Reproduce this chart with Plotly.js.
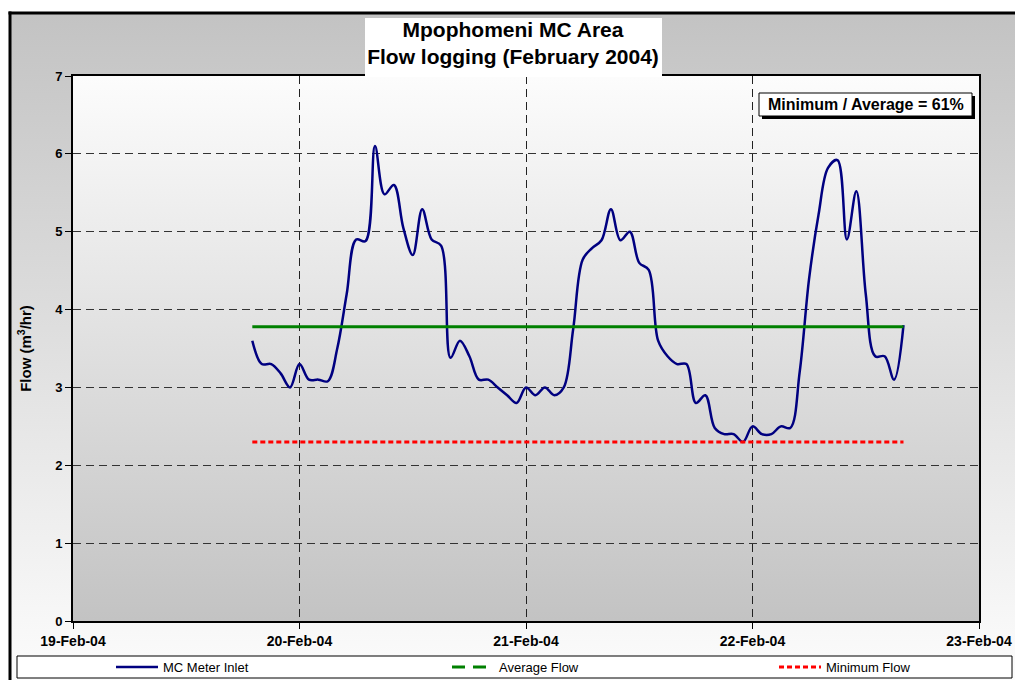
<!DOCTYPE html>
<html>
<head>
<meta charset="utf-8">
<script src="https://cdn.plot.ly/plotly-3.0.1.min.js"></script>
<style>html,body{margin:0;padding:0;background:#fff;overflow:hidden;}#chart{width:1015px;height:680px;overflow:hidden;}</style>
</head>
<body>
<div id="chart"></div>
<script>
// Hourly log timestamps
const times = [
  '2004-02-19 19:00','2004-02-19 20:00','2004-02-19 21:00','2004-02-19 22:00','2004-02-19 23:00',
  '2004-02-20 00:00','2004-02-20 01:00','2004-02-20 02:00','2004-02-20 03:00','2004-02-20 04:00',
  '2004-02-20 05:00','2004-02-20 06:00','2004-02-20 07:00','2004-02-20 08:00','2004-02-20 09:00',
  '2004-02-20 10:00','2004-02-20 11:00','2004-02-20 12:00','2004-02-20 13:00','2004-02-20 14:00',
  '2004-02-20 15:00','2004-02-20 16:00','2004-02-20 17:00','2004-02-20 18:00','2004-02-20 19:00',
  '2004-02-20 20:00','2004-02-20 21:00','2004-02-20 22:00','2004-02-20 23:00','2004-02-21 00:00',
  '2004-02-21 01:00','2004-02-21 02:00','2004-02-21 03:00','2004-02-21 04:00','2004-02-21 05:00',
  '2004-02-21 06:00','2004-02-21 07:00','2004-02-21 08:00','2004-02-21 09:00','2004-02-21 10:00',
  '2004-02-21 11:00','2004-02-21 12:00','2004-02-21 13:00','2004-02-21 14:00','2004-02-21 15:00',
  '2004-02-21 16:00','2004-02-21 17:00','2004-02-21 18:00','2004-02-21 19:00','2004-02-21 20:00',
  '2004-02-21 21:00','2004-02-21 22:00','2004-02-21 23:00','2004-02-22 00:00','2004-02-22 01:00',
  '2004-02-22 02:00','2004-02-22 03:00','2004-02-22 04:00','2004-02-22 05:00','2004-02-22 06:00',
  '2004-02-22 07:00','2004-02-22 08:00','2004-02-22 09:00','2004-02-22 10:00','2004-02-22 11:00',
  '2004-02-22 12:00','2004-02-22 13:00','2004-02-22 14:00','2004-02-22 15:00','2004-02-22 16:00'
];
// MC Meter Inlet flow (m3/hr)
const inletFlow = [
  3.60, 3.30, 3.30, 3.18, 3.00,
  3.30, 3.10, 3.10, 3.08, 3.50,
  4.20, 4.90, 4.88, 6.10, 5.48,
  5.60, 5.05, 4.70, 5.29, 4.90,
  4.82, 3.38, 3.60, 3.40, 3.10,
  3.10, 3.00, 2.90, 2.80, 3.00,
  2.90, 3.00, 2.90, 3.00, 3.75,
  4.64, 4.79, 4.89, 5.29, 4.89,
  5.00, 4.60, 4.51, 3.60, 3.40,
  3.30, 3.30, 2.80, 2.90, 2.48,
  2.40, 2.40, 2.30, 2.50, 2.40,
  2.40, 2.50, 2.48, 3.20, 4.40,
  5.22, 5.82, 5.92, 4.90, 5.52,
  4.20, 3.40, 3.40, 3.10, 3.80
];
const averageFlow = 3.78;
const minimumFlow = 2.30;
const seriesNames = ['MC Meter Inlet', 'Average Flow', 'Minimum Flow'];
const xRange = ['2004-02-19 00:00', '2004-02-23 00:00'];
const yRange = [0, 7];
const ratioLabel = 'Minimum / Average = 61%';
const chartTitle = 'Mpophomeni MC Area<br>Flow logging (February 2004)';

const FONT = 'Arial, "Liberation Sans", sans-serif';
const tEnds = [times[0], times[times.length - 1]];

function gradientURI(top, bottom) {
  const svg = "<svg xmlns='http://www.w3.org/2000/svg' width='100' height='100' viewBox='0 0 100 100' preserveAspectRatio='none'>" +
    "<defs><linearGradient id='g' x1='0' y1='0' x2='0' y2='1'>" +
    "<stop offset='0' stop-color='" + top + "'/><stop offset='1' stop-color='" + bottom + "'/>" +
    "</linearGradient></defs><rect x='-5' y='-5' width='110' height='110' fill='url(#g)'/></svg>";
  return 'data:image/svg+xml;charset=utf-8,' + encodeURIComponent(svg);
}

// pixel -> paper helpers (plot area: x 73..979, y 76..621)
const PL = 73, PR = 979, PT = 76, PB = 621;
const px = v => (v - PL) / (PR - PL);
const py = v => (PB - v) / (PB - PT);

const traces = [
  {x: times, y: inletFlow, name: seriesNames[0], type: 'scatter', mode: 'lines', legend: 'legend',
   line: {color: '#000080', width: 2.5, shape: 'spline', smoothing: 1}},
  {x: tEnds, y: [averageFlow, averageFlow], name: seriesNames[1], type: 'scatter', mode: 'lines',
   showlegend: false, line: {color: '#008000', width: 3}},
  // legend key for the average line (Excel shows it dashed in the key)
  {x: [null], y: [null], name: seriesNames[1], type: 'scatter', mode: 'lines', legend: 'legend2',
   line: {color: '#008000', width: 3, dash: '13px,8px'}},
  {x: tEnds, y: [minimumFlow, minimumFlow], name: seriesNames[2], type: 'scatter', mode: 'lines', legend: 'legend3',
   line: {color: '#FF0000', width: 3, dash: '5px,3px'}}
];

function legendAt(xpx) {
  return {
    orientation: 'h', x: px(xpx), xanchor: 'left', y: py(667), yanchor: 'middle',
    bgcolor: 'rgba(0,0,0,0)', borderwidth: 0,
    font: {family: FONT, size: 13, color: '#000'},
    itemwidth: 42
  };
}

const layout = {
  width: 1015, height: 680,
  margin: {l: PL, r: 1015 - PR, t: PT, b: 680 - PB, pad: 0, autoexpand: false},
  paper_bgcolor: '#FFFFFF',
  plot_bgcolor: 'rgba(0,0,0,0)',
  font: {family: FONT, color: '#000'},
  showlegend: true,
  title: {
    text: chartTitle,
    font: {family: FONT, size: 21, weight: 'bold', color: '#000'},
    xref: 'paper', x: px(513), xanchor: 'center',
    yref: 'container', y: 1 - 37 / 680, yanchor: 'middle'
  },
  xaxis: {
    type: 'date', range: xRange,
    tick0: '2004-02-19', dtick: 86400000, tickformat: '%d-%b-%y',
    tickfont: {family: FONT, size: 14, weight: 'bold', color: '#000'},
    ticks: 'outside', ticklen: 6, tickcolor: '#000', tickwidth: 1,
    showline: true, linecolor: '#000', linewidth: 2, mirror: true,
    showgrid: true, gridcolor: '#222', gridwidth: 1, griddash: '8px,5px',
    zeroline: false, fixedrange: true
  },
  yaxis: {
    range: yRange, dtick: 1, tick0: 0,
    tickfont: {family: FONT, size: 13, weight: 'bold', color: '#000'},
    ticks: 'outside', ticklen: 6, tickcolor: '#000', tickwidth: 1,
    showline: true, linecolor: '#000', linewidth: 2, mirror: true,
    showgrid: true, gridcolor: '#333', gridwidth: 1, griddash: '8px,5px',
    zeroline: false, fixedrange: true,
    title: {text: 'Flow (m<sup>3</sup>/hr)', font: {family: FONT, size: 15, weight: 'bold', color: '#000'}, standoff: 20}
  },
  legend: legendAt(111),
  legend2: legendAt(447),
  legend3: legendAt(774),
  images: [
    {source: gradientURI('#C0C0C0', '#FFFFFF'), xref: 'paper', yref: 'paper',
     x: px(9), y: py(12), sizex: px(1015) - px(9), sizey: py(12) - py(680),
     xanchor: 'left', yanchor: 'top', sizing: 'stretch', layer: 'below'},
    {source: gradientURI('#FFFFFF', '#C0C0C0'), xref: 'paper', yref: 'paper',
     x: 0, y: 1, sizex: 1, sizey: 1,
     xanchor: 'left', yanchor: 'top', sizing: 'stretch', layer: 'below'}
  ],
  shapes: [
    // outer chart frame: left and top edges (right/bottom fall outside the picture)
    {type: 'line', xref: 'paper', yref: 'paper', x0: px(10), x1: px(10), y0: py(11.5), y1: py(680),
     line: {color: '#000', width: 3}, layer: 'below'},
    {type: 'line', xref: 'paper', yref: 'paper', x0: px(8.5), x1: px(1015), y0: py(13), y1: py(13),
     line: {color: '#000', width: 3}, layer: 'below'},
    // legend box
    {type: 'rect', xref: 'paper', yref: 'paper', x0: px(17), x1: px(1012), y0: py(656), y1: py(678),
     line: {color: '#000', width: 1}, fillcolor: '#FFFFFF', layer: 'below'},
    // title white box
    {type: 'rect', xref: 'paper', yref: 'paper', x0: px(365), x1: px(662), y0: py(18), y1: py(77),
     line: {width: 0}, fillcolor: '#FFFFFF', layer: 'above'},
    // ratio box shadow
    {type: 'rect', xref: 'paper', yref: 'paper', x0: px(762), x1: px(975), y0: py(96), y1: py(119),
     line: {width: 0}, fillcolor: '#000000', layer: 'above'},
    // ratio box
    {type: 'rect', xref: 'paper', yref: 'paper', x0: px(759), x1: px(972), y0: py(93), y1: py(116),
     line: {color: '#000', width: 1}, fillcolor: '#FFFFFF', layer: 'above'}
  ],
  annotations: [
    {text: ratioLabel, xref: 'paper', yref: 'paper', x: px(865.5), y: py(105),
     xanchor: 'center', yanchor: 'middle', showarrow: false,
     font: {family: FONT, size: 16, weight: 'bold', color: '#000'}}
  ]
};

Plotly.newPlot('chart', traces, layout, {staticPlot: true, displayModeBar: false});
</script>
</body>
</html>
